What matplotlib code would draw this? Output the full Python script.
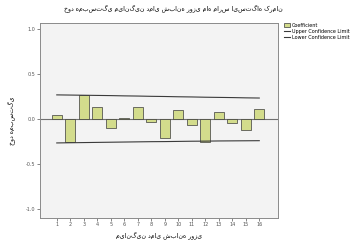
import matplotlib
matplotlib.use('Agg')
import matplotlib.pyplot as plt
from matplotlib.patches import Patch
from matplotlib.lines import Line2D

# autocorrelation values
lags = [1, 2, 3, 4, 5, 6, 7, 8, 9, 10, 11, 12, 13, 14, 15, 16]
coef = [0.05, -0.25, 0.27, 0.14, -0.10, 0.01, 0.14, -0.03,
        -0.21, 0.10, -0.06, -0.25, 0.08, -0.04, -0.12, 0.11]
upper = [0.27, 0.268, 0.266, 0.264, 0.262, 0.259, 0.257, 0.254,
         0.252, 0.249, 0.247, 0.244, 0.242, 0.240, 0.237, 0.235]
lower = [-0.265, -0.263, -0.261, -0.259, -0.257, -0.255, -0.253, -0.251,
         -0.250, -0.248, -0.246, -0.245, -0.243, -0.242, -0.241, -0.240]
yticks = [-1.0, -0.5, 0.0, 0.5, 1.0]

title = 'خود همبستگی میانگین دمای شبانه روزی ماه مارس ایستگاه کرمان'
ylab = 'خود همبستگی'
xlab = 'میانگین دمای شبانه روزی'

plt.rcParams['font.family'] = ['DejaVu Sans']

fig = plt.figure(figsize=(3.53, 2.40), dpi=100)
ax = fig.add_axes([0.113, 0.092, 0.675, 0.812])
ax.set_facecolor('#f3f3f3')

bar_col = '#d3dc8c'
ax.axhline(0, color='#707070', lw=0.8, zorder=1)
ax.bar(lags, coef, width=0.75, color=bar_col, edgecolor='#3a3a3a', lw=0.5, zorder=2)
ax.plot(lags, upper, color='#3a3a3a', lw=0.8, zorder=3)
ax.plot(lags, lower, color='#3a3a3a', lw=0.8, zorder=3)

ax.set_xlim(-0.25, 17.4)
ax.set_ylim(-1.1, 1.07)
ax.set_xticks(lags)
ax.set_xticklabels([str(l) for l in lags], fontsize=3.5, color='#555555')
ax.set_yticks(yticks)
ax.set_yticklabels(['%.1f' % v for v in yticks], fontsize=3.5, color='#555555')
ax.tick_params(length=2, width=0.5, pad=1, colors='#555555')
for s in ax.spines.values():
    s.set_color('#8a8a8a')
    s.set_linewidth(0.7)

ax.set_ylabel(ylab, fontsize=4.5, labelpad=8)
ax.set_xlabel(xlab, fontsize=4.5, labelpad=3)
fig.text(0.49, 0.965, title, fontsize=4.5, ha='center', va='center')

handles = [Patch(facecolor=bar_col, edgecolor='#3a3a3a', lw=0.5),
           Line2D([], [], color='#3a3a3a', lw=0.8),
           Line2D([], [], color='#3a3a3a', lw=0.8)]
fig.legend(handles, ['Coefficient', 'Upper Confidence Limit', 'Lower Confidence Limit'],
           loc='upper left', bbox_to_anchor=(0.795, 0.92), fontsize=3.5,
           frameon=False, handlelength=1.2, handleheight=1.1, labelspacing=0.2,
           borderpad=0.2, handletextpad=0.4)

fig.savefig('out.png', dpi=100, facecolor='white')
